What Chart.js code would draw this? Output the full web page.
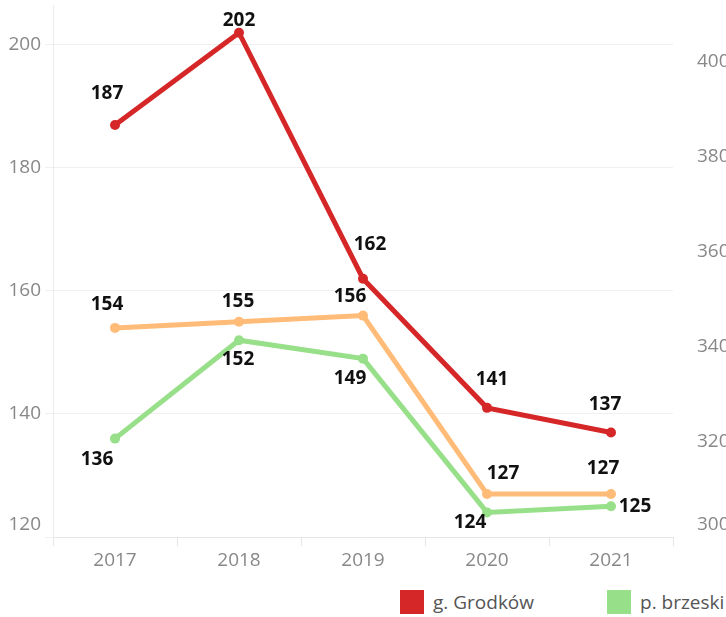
<!DOCTYPE html>
<html>
<head>
<meta charset="utf-8">
<script src="https://cdn.jsdelivr.net/npm/chart.js@4.4.1/dist/chart.umd.min.js"></script>
<style>
    html, body { margin: 0; padding: 0; background: #fff; overflow: hidden; }
    #wrap { position: relative; width: 760px; height: 617px; }
    #chartBox { position: absolute; left: 0; top: 0; width: 760px; height: 580px; }
    #legend {
        position: absolute; left: 400px; top: 589px;
        display: flex; align-items: center; gap: 73px;
        font: 19px "Open Sans", sans-serif; color: #555; white-space: nowrap;
    }
    #legend .item { display: flex; align-items: center; }
    #legend .box { width: 24px; height: 24px; margin-right: 9px; }
</style>
</head>
<body>
<div id="wrap">
    <div id="chartBox"><canvas id="lineChart"></canvas></div>
    <div id="legend"></div>
</div>
<script>
// Data
const years = ['2017', '2018', '2019', '2020', '2021'];
const grodkow = [187, 202, 162, 141, 137];
const brzeski = [136, 152, 149, 124, 125];
const thirdSeries = [154, 155, 156, 127, 127];
const leftTicks = [120, 140, 160, 180, 200];
const rightTicks = [300, 320, 340, 360, 380, 400];

const RED = '#d62728';
const GREEN = '#98df8a';
const ORANGE = '#ffbb78';
const AXIS_FONT = { family: '"Open Sans", sans-serif', size: 19 };

/**
 * Value labels next to each point (offsets in px from the point)
 */
const pointLabels = {
    id: 'pointLabels',
    afterDatasetsDraw(chart) {
        const ctx = chart.ctx;
        ctx.save();
        ctx.font = 'bold 19px "Open Sans", sans-serif';
        ctx.fillStyle = '#111';
        ctx.textAlign = 'center';
        ctx.textBaseline = 'middle';
        chart.data.datasets.forEach((ds, i) => {
            chart.getDatasetMeta(i).data.forEach((pt, j) => {
                const off = ds.labelOffsets[j];
                ctx.fillText(ds.data[j], pt.x + off[0], pt.y + off[1]);
            });
        });
        ctx.restore();
    }
};

/**
 * Lift the lowest tick label of both y axes a bit, like the original
 */
const liftBottomLabel = {
    id: 'liftBottomLabel',
    beforeDraw(chart) {
        ['y', 'y1'].forEach(id => {
            const items = chart.scales[id].getLabelItems();
            if (items.length && !items[0]._lifted) {
                items[0].options.translation[1] -= 12;
                items[0]._lifted = true;
            }
        });
    }
};

// y axes should not push the plot area down with their label padding
function fitYAxis(width) {
    return function(scale) {
        scale.width = width;
        scale.paddingTop = 0;
        scale.paddingBottom = 0;
    };
}

const ctx = document.getElementById('lineChart').getContext('2d');
const chart = new Chart(ctx, {
    type: 'line',
    data: {
        labels: years,
        datasets: [{
            label: 'g. Grodków',
            data: grodkow,
            borderColor: RED,
            backgroundColor: RED,
            labelOffsets: [[-8, -31], [0, -12], [7, -34], [5, -28], [-6, -28]]
        }, {
            label: 'p. brzeski',
            data: brzeski,
            borderColor: GREEN,
            backgroundColor: GREEN,
            labelOffsets: [[-18, 21], [-1, 19], [-13, 20], [-17, 10], [24, 0]]
        }, {
            label: 'seria 3',
            data: thirdSeries,
            borderColor: ORANGE,
            backgroundColor: ORANGE,
            labelOffsets: [[-8, -23], [-1, -20], [-13, -19], [16, -20], [-8, -25]]
        }]
    },
    options: {
        responsive: true,
        maintainAspectRatio: false,
        animation: false,
        layout: { padding: { left: 8, right: 27, top: 5, bottom: 0 } },
        elements: {
            line: { borderWidth: 5, tension: 0 },
            point: { radius: 5, hoverRadius: 5, borderWidth: 0 }
        },
        plugins: {
            legend: { display: false },
            tooltip: { enabled: false }
        },
        scales: {
            x: {
                offset: true,
                grid: { drawOnChartArea: false, drawTicks: true, tickLength: 9, color: '#e6e6e6', offset: true },
                border: { color: '#e6e6e6' },
                ticks: { color: '#888', font: AXIS_FONT, padding: 3 },
                afterFit(scale) { scale.height = 43; }
            },
            y: {
                position: 'left',
                min: 120,
                max: 206.5,
                afterBuildTicks(scale) { scale.ticks = leftTicks.map(v => ({ value: v })); },
                grid: { color: '#f0f0f0', tickLength: 8 },
                border: { color: '#ececec' },
                ticks: { color: '#888', font: AXIS_FONT, padding: 4 },
                afterFit: fitYAxis(45)
            },
            y1: {
                position: 'right',
                min: 300,
                max: 412,
                afterBuildTicks(scale) { scale.ticks = rightTicks.map(v => ({ value: v })); },
                grid: { drawOnChartArea: false, drawTicks: false },
                border: { display: false },
                ticks: { color: '#888', font: AXIS_FONT, padding: 24 },
                afterFit: fitYAxis(60)
            }
        }
    },
    plugins: [liftBottomLabel, pointLabels]
});

// HTML legend (only the two series that show in the original)
const legendEl = document.getElementById('legend');
chart.data.datasets.slice(0, 2).forEach(ds => {
    const item = document.createElement('div');
    item.className = 'item';
    item.innerHTML = `<span class="box" style="background:${ds.borderColor}"></span><span>${ds.label}</span>`;
    legendEl.appendChild(item);
});
</script>
</body>
</html>
